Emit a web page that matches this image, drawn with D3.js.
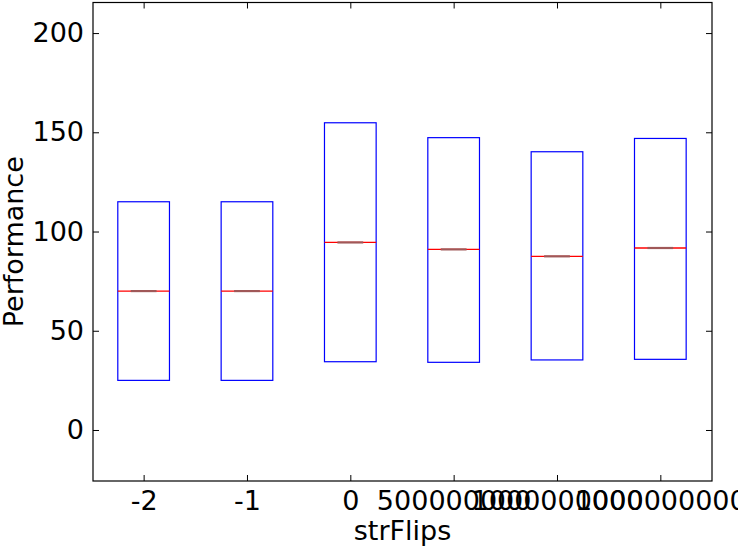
<!DOCTYPE html>
<html>
<head>
<meta charset="utf-8">
<script src="https://cdn.jsdelivr.net/npm/d3@7"></script>
<style>
  html, body { margin: 0; padding: 0; background: #fff; overflow: hidden; }
  svg { display: block; font-family: "DejaVu Sans", sans-serif; }
</style>
</head>
<body>
<svg id="chart" width="738" height="552"></svg>
<script>
// Data
const categories = ["-2", "-1", "0", "500000000", "1000000000", "1000000000"];
const q1 = [25.0, 25.0, 34.4, 34.1, 35.3, 35.6];
const medians = [70.0, 70.0, 94.5, 91.0, 87.5, 91.7];
const q3 = [115.0, 115.0, 154.8, 147.3, 140.2, 146.9];
const yTicks = [0, 50, 100, 150, 200];

const svg = d3.select("#chart");
const L = 93, R = 712, T = 2.5, B = 481;
const FS = 27;

const x = d3.scaleLinear().domain([0.51, 6.5]).range([L, R]);
const y = d3.scaleLinear().domain([-25.7, 215.4]).range([B, T]);
const positions = categories.map((_, i) => i + 1);
const boxW = 0.5;
const capW = 0.25;

const g = svg.append("g");

// Boxes
positions.forEach((p, i) => {
  const x0 = x(p - boxW / 2), x1 = x(p + boxW / 2);
  g.append("rect")
    .attr("x", x0).attr("y", y(q3[i]))
    .attr("width", x1 - x0).attr("height", y(q1[i]) - y(q3[i]))
    .attr("fill", "none").attr("stroke", "#0000ff").attr("stroke-width", 1.2);
  g.append("line")
    .attr("x1", x0).attr("x2", x1)
    .attr("y1", y(medians[i])).attr("y2", y(medians[i]))
    .attr("stroke", "#ff0000").attr("stroke-width", 1.3);
  g.append("line")
    .attr("x1", x(p - capW / 2)).attr("x2", x(p + capW / 2))
    .attr("y1", y(medians[i])).attr("y2", y(medians[i]))
    .attr("stroke", "#a05858").attr("stroke-width", 2.2);
});

// Axes frame
svg.append("rect").attr("x", L).attr("y", T).attr("width", R - L).attr("height", B - T)
  .attr("fill", "none").attr("stroke", "#000").attr("stroke-width", 1.2);

// Y axis ticks (inward, mirrored)
const yAxisL = d3.axisLeft(y).tickValues(yTicks).tickSizeInner(-6).tickSizeOuter(0).tickPadding(9);
const gy = svg.append("g").attr("transform", `translate(${L},0)`).call(yAxisL);
gy.select(".domain").remove();
gy.selectAll("text").attr("font-size", FS).attr("font-family", "DejaVu Sans").attr("fill", "#000");
gy.selectAll("line").attr("stroke", "#000");
const yAxisR = d3.axisRight(y).tickValues(yTicks).tickSizeInner(-6).tickSizeOuter(0).tickFormat("");
const gyr = svg.append("g").attr("transform", `translate(${R},0)`).call(yAxisR);
gyr.select(".domain").remove();
gyr.selectAll("line").attr("stroke", "#000");

// X axis ticks
const xAxisB = d3.axisBottom(x).tickValues(positions).tickFormat((d) => categories[d - 1])
  .tickSizeInner(-6).tickSizeOuter(0).tickPadding(14);
const gx = svg.append("g").attr("transform", `translate(0,${B})`).call(xAxisB);
gx.select(".domain").remove();
gx.selectAll("text").attr("font-size", FS).attr("font-family", "DejaVu Sans").attr("fill", "#000")
  .attr("y", 29).attr("dy", 0);
gx.selectAll("line").attr("stroke", "#000");
const xAxisT = d3.axisTop(x).tickValues(positions).tickSizeInner(-6).tickSizeOuter(0).tickFormat("");
const gxt = svg.append("g").attr("transform", `translate(0,${T})`).call(xAxisT);
gxt.select(".domain").remove();
gxt.selectAll("line").attr("stroke", "#000");

// Axis labels
svg.append("text").attr("x", (L + R) / 2).attr("y", 540)
  .attr("text-anchor", "middle").attr("font-size", FS).text("strFlips");
svg.append("text").attr("transform", `translate(23,${(T + B) / 2}) rotate(-90)`)
  .attr("text-anchor", "middle").attr("font-size", FS).text("Performance");
</script>
</body>
</html>
